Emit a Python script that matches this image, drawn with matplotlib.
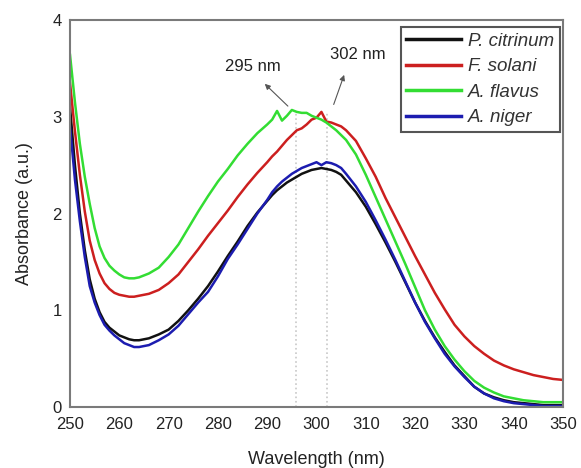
import numpy as np
import matplotlib
matplotlib.use('Agg')
import matplotlib.pyplot as plt

plt.rcParams['font.family'] = ['Liberation Sans', 'DejaVu Sans']

# longitudes de onda (nm), paso fino cerca del minimo inicial y del pico
wl = np.concatenate([np.arange(250, 265, 1), np.arange(266, 291, 2),
                     np.arange(291, 306, 1), np.arange(306, 351, 2)])

# absorbancias
p_citrinum = [3.10, 2.50, 2.00, 1.62, 1.32, 1.12, 0.98, 0.88, 0.82, 0.78, 0.74, 0.72, 0.70, 0.69, 0.69,
              0.71, 0.75, 0.80, 0.89, 1.00, 1.12, 1.25, 1.40, 1.56, 1.71, 1.87, 2.01, 2.13,
              2.19, 2.24, 2.28, 2.32, 2.35, 2.38, 2.41, 2.43, 2.45, 2.46, 2.47, 2.46, 2.45, 2.43, 2.40,
              2.34, 2.22, 2.07, 1.89, 1.70, 1.50, 1.29, 1.08, 0.89, 0.72, 0.57, 0.43, 0.32, 0.21, 0.14,
              0.10, 0.07, 0.05, 0.04, 0.03, 0.02, 0.02, 0.02]
f_solani = [3.35, 2.85, 2.40, 2.02, 1.72, 1.52, 1.38, 1.28, 1.22, 1.18, 1.16, 1.15, 1.14, 1.14, 1.15,
            1.17, 1.21, 1.28, 1.37, 1.50, 1.63, 1.77, 1.90, 2.03, 2.17, 2.30, 2.42, 2.53,
            2.59, 2.64, 2.70, 2.76, 2.81, 2.86, 2.88, 2.92, 2.97, 2.99, 3.05, 2.95, 2.94, 2.92, 2.90,
            2.86, 2.75, 2.57, 2.38, 2.16, 1.96, 1.76, 1.56, 1.37, 1.18, 1.01, 0.85, 0.73, 0.63, 0.55,
            0.48, 0.43, 0.39, 0.36, 0.33, 0.31, 0.29, 0.28]
a_flavus = [3.64, 3.15, 2.72, 2.38, 2.10, 1.85, 1.66, 1.54, 1.46, 1.41, 1.37, 1.34, 1.33, 1.33, 1.34,
            1.38, 1.44, 1.55, 1.68, 1.85, 2.02, 2.18, 2.33, 2.46, 2.60, 2.72, 2.83, 2.92,
            2.97, 3.06, 2.96, 3.01, 3.07, 3.05, 3.04, 3.04, 3.01, 2.99, 2.97, 2.94, 2.90, 2.86, 2.81,
            2.76, 2.61, 2.40, 2.17, 1.94, 1.71, 1.48, 1.24, 1.00, 0.80, 0.63, 0.49, 0.37, 0.27, 0.20,
            0.15, 0.11, 0.09, 0.07, 0.06, 0.05, 0.05, 0.05]
a_niger = [2.90, 2.35, 1.92, 1.55, 1.25, 1.08, 0.95, 0.85, 0.79, 0.74, 0.70, 0.66, 0.64, 0.62, 0.62,
           0.64, 0.69, 0.75, 0.84, 0.96, 1.08, 1.19, 1.35, 1.53, 1.68, 1.84, 2.00, 2.14,
           2.22, 2.28, 2.33, 2.37, 2.41, 2.44, 2.47, 2.49, 2.51, 2.53, 2.50, 2.53, 2.52, 2.50, 2.47,
           2.41, 2.28, 2.12, 1.93, 1.73, 1.52, 1.30, 1.08, 0.88, 0.71, 0.55, 0.42, 0.31, 0.21, 0.14,
           0.09, 0.06, 0.04, 0.03, 0.02, 0.01, 0.01, 0.01]

picos = [295.8, 302.1]
picos_alto = [3.05, 3.05]

fig = plt.figure(figsize=(5.81, 4.68), dpi=100)
ax = fig.add_axes([0.1205, 0.1303, 0.8485, 0.8270])

ax.vlines(picos, 0, picos_alto, colors='#c8c8c8', linestyles=':', linewidth=1.2, zorder=1)

ax.plot(wl, p_citrinum, color='#111111', lw=1.8, label='P. citrinum')
ax.plot(wl, f_solani, color='#cc1f1f', lw=1.8, label='F. solani')
ax.plot(wl, a_flavus, color='#33dd33', lw=1.8, label='A. flavus')
ax.plot(wl, a_niger, color='#1c1cb0', lw=1.8, label='A. niger')

# flechas de los picos
ax.annotate('', xy=(289.1, 3.36), xytext=(294.6, 3.09),
            arrowprops=dict(arrowstyle='-|>', color='#555555', lw=0.8, mutation_scale=8))
ax.annotate('', xy=(305.8, 3.46), xytext=(303.3, 3.10),
            arrowprops=dict(arrowstyle='-|>', color='#555555', lw=0.8, mutation_scale=8))
ax.text(287.1, 3.52, '295 nm', fontsize=12, ha='center', va='center', color='#222222')
ax.text(308.4, 3.64, '302 nm', fontsize=12, ha='center', va='center', color='#222222')

ax.set_xlim(250, 350)
ax.set_ylim(0, 4)
ax.set_xticks(np.arange(250, 351, 10))
ax.set_yticks([0, 1, 2, 3, 4])
ax.tick_params(length=0, labelsize=12, colors='#222222')
ax.tick_params(axis='x', pad=7)
ax.tick_params(axis='y', pad=6)
for s in ax.spines.values():
    s.set_color('#7a7a7a')
    s.set_linewidth(1.5)

ax.set_xlabel('Wavelength (nm)', fontsize=13, color='#222222', labelpad=14)
ax.set_ylabel('Absorbance (a.u.)', fontsize=13, color='#222222', labelpad=14)

leg = ax.legend(loc='upper right', bbox_to_anchor=(0.994, 0.982), fancybox=False,
                edgecolor='#555555', framealpha=1, handlelength=2.9, labelspacing=0.45,
                borderaxespad=0, borderpad=0.3, handletextpad=0.4,
                prop={'size': 13.5, 'style': 'italic'})
leg.get_frame().set_linewidth(1.5)
for t in leg.get_texts():
    t.set_color('#333333')
for l in leg.get_lines():
    l.set_linewidth(2.5)

fig.savefig('out.png', dpi=100)
